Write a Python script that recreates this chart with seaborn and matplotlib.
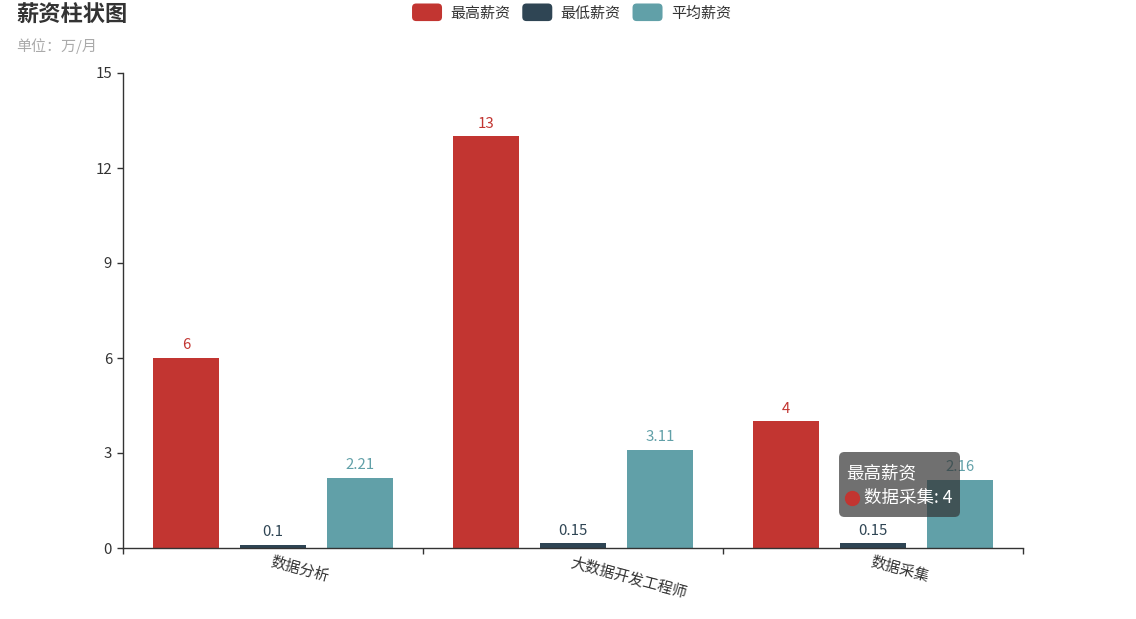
import matplotlib
matplotlib.use("Agg")
import pandas as pd
import matplotlib.pyplot as plt
from matplotlib.patches import Patch, FancyBboxPatch
from matplotlib.legend_handler import HandlerPatch
import seaborn as sns

categories = ["数据分析", "大数据开发工程师", "数据采集"]
series_names = ["最高薪资", "最低薪资", "平均薪资"]
max_salary = [6, 13, 4]
min_salary = [0.1, 0.15, 0.15]
avg_salary = [2.21, 3.11, 2.16]
colors = ["#c23531", "#2f4554", "#61a0a8"]
y_ticks = [0, 3, 6, 9, 12, 15]

# long format table for seaborn
rows = []
for name, vals in zip(series_names, [max_salary, min_salary, avg_salary]):
    for cat, v in zip(categories, vals):
        rows.append({"岗位": cat, "薪资": v, "类型": name})
df = pd.DataFrame(rows)

sns.set_theme(style="white")
plt.rcParams["font.family"] = ["Noto Sans CJK SC", "DejaVu Sans"]
text_color = "#333333"
fs = 10.8

fig = plt.figure(figsize=(11.36, 6.19), dpi=100)
ax = fig.add_axes([123 / 1136, 1 - 548 / 619, 900 / 1136, 475 / 619])

sns.barplot(data=df, x="岗位", y="薪资", hue="类型", order=categories,
            hue_order=series_names, palette=colors, saturation=1,
            width=0.87, gap=0.23, errorbar=None, linewidth=0,
            legend=False, ax=ax)

for container, vals, c in zip(ax.containers, [max_salary, min_salary, avg_salary], colors):
    ax.bar_label(container, labels=[f"{v:g}" for v in vals], padding=4,
                 color=c, fontsize=fs)

ax.set_xlim(-0.5, 2.5)
ax.set_ylim(0, 15)
ax.set_yticks(y_ticks)
ax.set_xlabel("")
ax.set_ylabel("")

# category boundaries get the tick marks, labels sit at the centres
ax.set_xticks([-0.5, 0.5, 1.5, 2.5])
ax.set_xticklabels([])
ax.set_xticks([0, 1, 2], minor=True)
ax.set_xticklabels(categories, minor=True, rotation=-15, ha="left",
                   rotation_mode="anchor", va="top", color=text_color, fontsize=fs)
ax.tick_params(axis="x", which="major", direction="out", length=4,
               width=1, color=text_color, bottom=True)
ax.tick_params(axis="x", which="minor", length=0, pad=5)
ax.tick_params(axis="y", direction="out", length=4, width=1, color=text_color,
               labelcolor=text_color, labelsize=fs, pad=4, left=True)

sns.despine(ax=ax)
for side in ["left", "bottom"]:
    ax.spines[side].set_color(text_color)
    ax.spines[side].set_linewidth(1)
ax.grid(False)

# title, subtitle, legend
fig.text(16 / 1136, 1 - 15 / 619, "薪资柱状图", fontsize=16, fontweight="bold",
         color=text_color, va="center", ha="left")
fig.text(16 / 1136, 1 - 46 / 619, "单位：万/月", fontsize=fs, color="#aaaaaa",
         va="center", ha="left")


def rounded_box(legend, orig_handle, xdescent, ydescent, width, height, fontsize):
    return FancyBboxPatch((-xdescent, -ydescent - 1.5), width, height + 3,
                          boxstyle="round,pad=0,rounding_size=3")


handles = [Patch(facecolor=c, edgecolor="none", label=n) for c, n in zip(colors, series_names)]
fig.legend(handles=handles, loc="center", bbox_to_anchor=(0.503, 1 - 13 / 619),
           ncol=3, frameon=False, fontsize=fs, handlelength=2.0, handleheight=1.0,
           handletextpad=0.55, columnspacing=0.8, labelcolor=text_color,
           handler_map={Patch: HandlerPatch(patch_func=rounded_box)})

# hover tooltip
box = FancyBboxPatch((0.7956, 0.0653), 0.1344, 0.1368, transform=ax.transAxes,
                     boxstyle="round,pad=0,rounding_size=0.006",
                     mutation_aspect=900 / 475, facecolor=(0.2, 0.2, 0.2, 0.7),
                     edgecolor="none", zorder=10, clip_on=False)
ax.add_patch(box)
ax.text(0.803, 0.158, "最高薪资", transform=ax.transAxes, color="white",
        fontsize=12.6, va="center", ha="left", zorder=11)
ax.plot([0.81], [0.105], marker="o", markersize=10, color=colors[0],
        transform=ax.transAxes, clip_on=False, zorder=11)
ax.text(0.8233, 0.105, f"{categories[2]}: {max_salary[2]:g}", transform=ax.transAxes,
        color="white", fontsize=12.6, va="center", ha="left", zorder=11)

fig.savefig("out.png", dpi=100)
